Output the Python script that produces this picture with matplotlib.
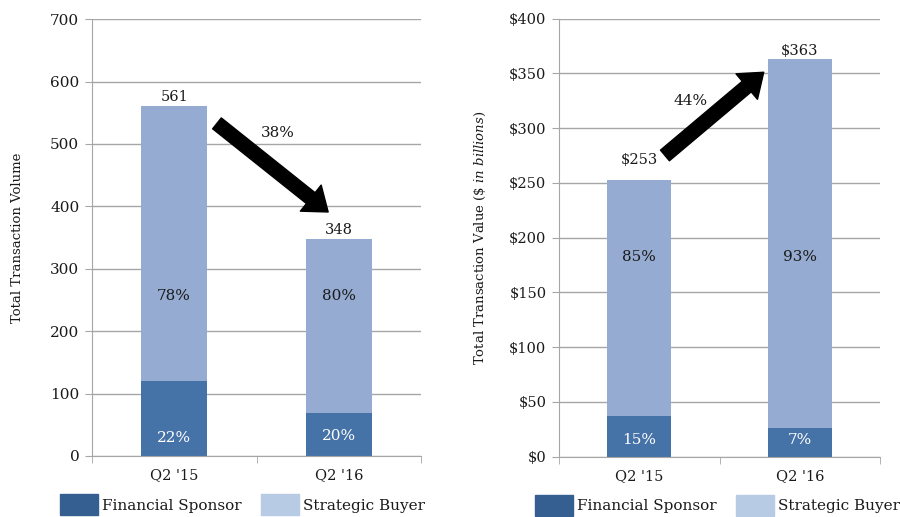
import matplotlib.pyplot as plt
from matplotlib.patches import Patch

plt.rcParams['font.family'] = 'DejaVu Serif'
plt.rcParams['mathtext.fontset'] = 'dejavuserif'

# data
quarters = ["Q2 '15", "Q2 '16"]
vol_total = [561, 348]
vol_financial = [120, 69]
vol_pct_fin = ["22%", "20%"]
vol_pct_str = ["78%", "80%"]
val_total = [253, 363]
val_financial = [37, 26]
val_pct_fin = ["15%", "7%"]
val_pct_str = ["85%", "93%"]

c_fin = "#4572a7"
c_str = "#95abd1"
c_fin_leg = "#355f90"
c_str_leg = "#b7cbe4"
grid_c = "#a6a6a6"
txt_c = "#1a1a1a"

fig = plt.figure(figsize=(9, 5.17), dpi=100)
ax1 = fig.add_axes([0.102, 0.118, 0.366, 0.845])
ax2 = fig.add_axes([0.621, 0.117, 0.357, 0.847])


def style(ax, ymax, step, ysize):
    ax.set_xlim(-0.5, 1.5)
    ax.set_ylim(0, ymax)
    ax.set_yticks(range(0, ymax + 1, step))
    ax.yaxis.grid(True, color=grid_c, linewidth=1)
    ax.set_axisbelow(True)
    for s in ['top', 'right']:
        ax.spines[s].set_visible(False)
    for s in ['left', 'bottom']:
        ax.spines[s].set_color(grid_c)
    ax.set_xticks([0, 1])
    ax.set_xticklabels(quarters, fontsize=10.5, color=txt_c)
    ax.set_xticks([-0.5, 0.5, 1.5], minor=True)
    ax.tick_params(axis='x', which='major', length=0, pad=9)
    ax.tick_params(axis='x', which='minor', length=5, color=grid_c)
    ax.tick_params(axis='y', length=5, color=grid_c, labelsize=ysize, labelcolor=txt_c, pad=4)


def add_arrow(ax, tail, tip):
    ax.annotate("", xy=tip, xytext=tail,
                arrowprops=dict(arrowstyle="simple,head_width=2.4,head_length=1.6,tail_width=1.0",
                                fc='black', ec='black', shrinkA=0, shrinkB=0))


x = range(len(quarters))

# left chart: volume
vol_strategic = [t - f for t, f in zip(vol_total, vol_financial)]
ax1.bar(x, vol_financial, width=0.4, color=c_fin)
ax1.bar(x, vol_strategic, width=0.4, bottom=vol_financial, color=c_str)
style(ax1, 700, 100, 11)
ax1.set_ylabel("Total Transaction Volume", fontsize=9.5, labelpad=19, color=txt_c)
for i in x:
    ax1.annotate(str(vol_total[i]), (i, vol_total[i]), xytext=(0, 1),
                 textcoords='offset points', ha='center', va='bottom', fontsize=10.5, color=txt_c)
    ax1.text(i, [29, 32][i], vol_pct_fin[i], ha='center', va='center',
             color='white', fontsize=11)
    ax1.text(i, 257, vol_pct_str[i], ha='center', va='center', fontsize=11, color=txt_c)
add_arrow(ax1, (0.26, 533), (0.935, 391))
ax1.text(0.63, 517, "38%", ha='center', va='center', fontsize=11, color=txt_c)

# right chart: value
val_strategic = [t - f for t, f in zip(val_total, val_financial)]
ax2.bar(x, val_financial, width=0.4, color=c_fin)
ax2.bar(x, val_strategic, width=0.4, bottom=val_financial, color=c_str)
style(ax2, 400, 50, 10.5)
ax2.set_yticklabels(["$%d" % v for v in range(0, 401, 50)])
ax2.set_ylabel(r"Total Transaction Value ($\it{\$\ in\ billions}$)", fontsize=9.5,
               labelpad=15, color=txt_c)
offsets = [9, 1]
for i in x:
    ax2.annotate("$%d" % val_total[i], (i, val_total[i]), xytext=(0, offsets[i]),
                 textcoords='offset points', ha='center', va='bottom', fontsize=10.5, color=txt_c)
    ax2.text(i, 15, val_pct_fin[i], ha='center', va='center', color='white', fontsize=11)
    ax2.text(i, 182, val_pct_str[i], ha='center', va='center', fontsize=11, color=txt_c)
add_arrow(ax2, (0.16, 275), (0.775, 351))
ax2.text(0.32, 325, "44%", ha='center', va='center', fontsize=11, color=txt_c)

# legends
handles = [Patch(color=c_fin_leg, label="Financial Sponsor"),
           Patch(color=c_str_leg, label="Strategic Buyer")]
for ax, lx in ((ax1, 0.457), (ax2, 0.493)):
    ax.legend(handles=handles, loc='upper center', bbox_to_anchor=(lx, -0.087),
              ncol=2, frameon=False, fontsize=11, handlelength=2.5, handleheight=1.75,
              handletextpad=0.25, columnspacing=1.3, borderaxespad=0, borderpad=0,
              labelcolor=txt_c)

plt.savefig("out.png")
